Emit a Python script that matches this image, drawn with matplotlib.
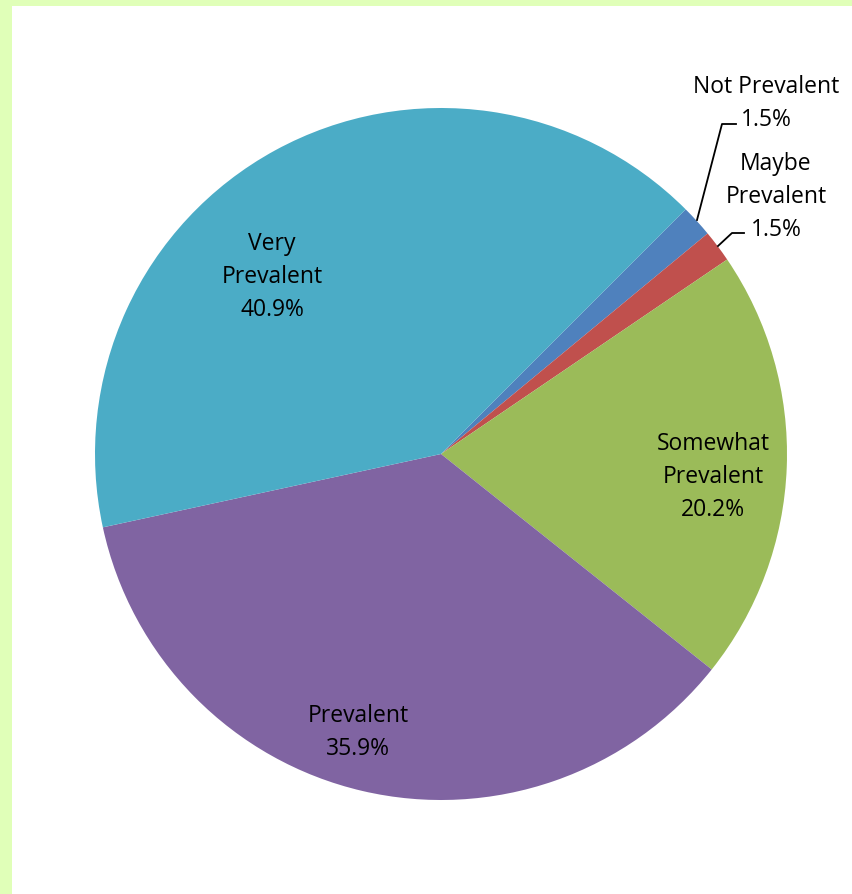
import matplotlib
matplotlib.use("Agg")
import matplotlib.pyplot as plt
from matplotlib.patches import Rectangle

categories = ["Not Prevalent", "Maybe Prevalent", "Somewhat Prevalent", "Prevalent", "Very Prevalent"]
values = [1.5, 1.5, 20.2, 35.9, 40.9]
label_text = ["Not Prevalent\n1.5%", "Maybe\nPrevalent\n1.5%", "Somewhat\nPrevalent\n20.2%",
              "Prevalent\n35.9%", "Very\nPrevalent\n40.9%"]
colors = ["#4f81bd", "#c0504d", "#9bbb59", "#8064a2", "#4bacc6"]

W, H = 852, 895
fig = plt.figure(figsize=(W / 100, H / 100), dpi=100)
fig.patch.set_facecolor("#e0ffb8")
ax = fig.add_axes([0, 0, 1, 1])
ax.set_xlim(0, W)
ax.set_ylim(0, H)
ax.set_aspect("equal")
ax.axis("off")
ax.add_patch(Rectangle((12, 0), W - 12, H - 7, facecolor="white", edgecolor="none", zorder=0))

cx, cy, R = 441, H - 455, 346
ax.pie(values, colors=colors, startangle=45, counterclock=False, center=(cx, cy), radius=R,
       wedgeprops=dict(linewidth=0), frame=True)
ax.set_xlim(0, W)
ax.set_ylim(0, H)
ax.axis("off")

font = dict(fontsize=16.5, family=["Open Sans", "DejaVu Sans"], color="#000000", linespacing=1.5)
# label positions in pixel coordinates (x, y from top)
label_pos = [(766, 103), (776, 197), (713, 477), (358, 733), (272, 277)]
for txt, (px, py) in zip(label_text, label_pos):
    ax.text(px, H - py, txt, ha="center", va="center", **font)

# leader lines
ax.plot([697, 722, 736], [H - 221, H - 125, H - 125], color="black", lw=1.3)
ax.plot([718, 732, 744], [H - 247, H - 234, H - 234], color="black", lw=1.3)

fig.savefig("out.png", dpi=100, facecolor=fig.get_facecolor())
